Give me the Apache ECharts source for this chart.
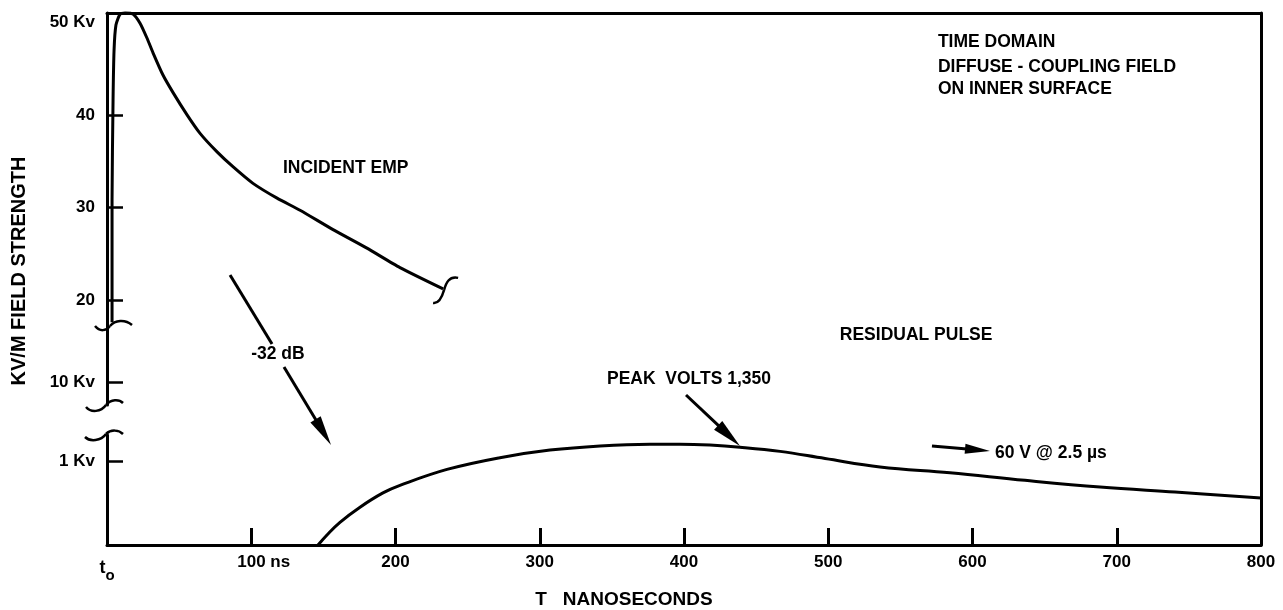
<!DOCTYPE html>
<html><head><meta charset="utf-8">
<script src="https://cdn.jsdelivr.net/npm/echarts@6/dist/echarts.min.js"></script>
<style>html,body{margin:0;padding:0;background:#fff}#c{width:1283px;height:610px}</style>
</head><body><div id="c"></div>
<script>
// ---- data ----
const xTicks = [0, 100, 200, 300, 400, 500, 600, 700, 800];
const xTickLabels = ['t0', '100 ns', '200', '300', '400', '500', '600', '700', '800'];
const upperTicks = [20, 30, 40, 50];
const upperTickLabels = ['20', '30', '40', '50 Kv'];
const midTicks = [10];
const midTickLabels = ['10 Kv'];
const lowTicks = [1];
const lowTickLabels = ['1 Kv'];

// Incident EMP (kV/m), time in ns
const incidentTime = [3.5, 3.5, 4.2, 4.9, 6.2, 9.0, 12.5, 18.0, 22.9, 27.7, 31.9, 38.8, 45.8, 55.5, 64.5, 76.3, 87.3, 101.2, 117.9, 133.8, 156.7, 180.2, 203.1, 233.0];
const incidentKV   = [17.6, 30.8, 41.6, 47.0, 49.7, 50.85, 51.0, 50.9, 49.9, 48.3, 46.7, 44.3, 42.4, 40.0, 38.0, 36.0, 34.4, 32.6, 31.0, 29.7, 27.6, 25.6, 23.5, 21.2];

// Residual pulse (kV/m), time in ns
const residualTime = [146.3, 152.5, 161.5, 175.4, 191.3, 203.1, 235.7, 272.4, 307.1, 341.8, 376.4, 397.2, 418.0, 438.8, 466.6, 497.8, 535.9, 584.4, 636.4, 688.4, 740.4, 800];
const residualKV   = [0, 0.12, 0.27, 0.45, 0.62, 0.71, 0.90, 1.04, 1.13, 1.18, 1.20, 1.20, 1.19, 1.165, 1.115, 1.03, 0.93, 0.86, 0.77, 0.69, 0.63, 0.56];

const FONT = '"Liberation Sans", Arial, Helvetica, sans-serif';
const BLACK = '#000';

const chart = echarts.init(document.getElementById('c'), null, {renderer: 'canvas'});

const G = {left: 107, right: 22};
function yAxisDef(gi, min, max, ticks, labels, tickVals) {
  return {
    type: 'value', gridIndex: gi, min: min, max: max,
    axisLine: {show: true, onZero: false, lineStyle: {color: BLACK, width: 3}},
    axisTick: {show: true, inside: true, length: 16, customValues: tickVals, lineStyle: {color: BLACK, width: 2.5}},
    axisLabel: {show: true, customValues: ticks, margin: 12, color: BLACK, fontFamily: FONT, fontWeight: 'bold', fontSize: 17,
      formatter: v => { const i = ticks.indexOf(v); return i >= 0 ? labels[i] : ''; }},
    splitLine: {show: false}
  };
}

const option = {
  animation: false,
  backgroundColor: '#fff',
  grid: [
    {left: G.left, right: G.right, top: 13, height: 312},
    {left: G.left, right: G.right, top: 325, height: 80},
    {left: G.left, right: G.right, top: 435, height: 110},
    {left: G.left, right: G.right, top: 13, height: 532}
  ],
  xAxis: [
    {type: 'value', gridIndex: 0, min: 0, max: 800, show: false},
    {type: 'value', gridIndex: 1, min: 0, max: 800, show: false},
    {type: 'value', gridIndex: 2, min: 0, max: 800,
      axisLine: {show: true, onZero: false, lineStyle: {color: BLACK, width: 3}},
      axisTick: {show: true, inside: true, length: 17, customValues: xTicks.slice(1, -1), lineStyle: {color: BLACK, width: 3}},
      axisLabel: {show: true, customValues: xTicks, margin: 9, color: BLACK, fontFamily: FONT, fontWeight: 'bold', fontSize: 17,
        formatter: v => {
          const lab = xTickLabels[xTicks.indexOf(v)] || '';
          if (lab === 't0') return '{t|t}{s|o}';
          if (lab.indexOf(' ') > 0) return '{pad|}' + lab;
          return lab;
        },
        rich: {
          t: {fontFamily: FONT, fontWeight: 'bold', fontSize: 18, color: BLACK},
          s: {fontFamily: FONT, fontWeight: 'bold', fontSize: 15, color: BLACK, padding: [14, 0, 0, 0]},
          pad: {width: 25}
        }},
      splitLine: {show: false}},
    {type: 'value', gridIndex: 3, min: 0, max: 800, position: 'top',
      axisLine: {show: true, onZero: false, lineStyle: {color: BLACK, width: 3}},
      axisTick: {show: false}, axisLabel: {show: false}, splitLine: {show: false}}
  ],
  yAxis: [
    yAxisDef(0, 17.3, 51.0, upperTicks, upperTickLabels, [20, 30, 40]),
    yAxisDef(1, 7.7, 15.7, midTicks, midTickLabels, [10]),
    yAxisDef(2, 0, 1.31, lowTicks, lowTickLabels, [1]),
    {type: 'value', gridIndex: 3, min: 0, max: 1, position: 'right',
      axisLine: {show: true, onZero: false, lineStyle: {color: BLACK, width: 3}},
      axisTick: {show: false}, axisLabel: {show: false}, splitLine: {show: false}}
  ],
  series: [
    {name: 'Incident EMP', type: 'line', xAxisIndex: 0, yAxisIndex: 0, symbol: 'none', smooth: 0.2, clip: false,
      lineStyle: {color: BLACK, width: 3}, data: incidentTime.map((t, i) => [t, incidentKV[i]])},
    {name: 'Residual pulse', type: 'line', xAxisIndex: 2, yAxisIndex: 2, symbol: 'none', smooth: 0.4,
      lineStyle: {color: BLACK, width: 3}, data: residualTime.map((t, i) => [t, residualKV[i]])}
  ]
};
chart.setOption(option);

// ---- annotations (positions given in data coordinates of each band) ----
function P(g, x, y) { return chart.convertToPixel({gridIndex: g}, [x, y]); }
const txtFont = 'bold 17.5px ' + FONT;
const els = [];
function text(p, s, align, font) {
  els.push({type: 'text', x: p[0], y: p[1], silent: true, z: 10,
    style: {text: s, font: font || txtFont, fill: BLACK, align: align || 'left', verticalAlign: 'middle'}});
}
function line(p0, p1) {
  els.push({type: 'line', silent: true, z: 10, shape: {x1: p0[0], y1: p0[1], x2: p1[0], y2: p1[1]},
    style: {stroke: BLACK, lineWidth: 3}});
}
function arrow(p0, p1, hl, hw) {
  const dx = p1[0] - p0[0], dy = p1[1] - p0[1], L = Math.hypot(dx, dy);
  const ux = dx / L, uy = dy / L;
  const bx = p1[0] - ux * hl, by = p1[1] - uy * hl;
  line(p0, [bx + ux * 2, by + uy * 2]);
  els.push({type: 'polygon', silent: true, z: 10, shape: {points: [
    [p1[0], p1[1]], [bx - uy * hw / 2, by + ux * hw / 2], [bx + uy * hw / 2, by - ux * hw / 2]]},
    style: {fill: BLACK}});
}
function tilde(c, pts) { // bezier segments relative to anchor c
  pts.forEach(s => els.push({type: 'bezierCurve', silent: true, z: 10,
    shape: {x1: c[0] + s[0], y1: c[1] + s[1], cpx1: c[0] + s[2], cpy1: c[1] + s[3], cpx2: c[0] + s[4], cpy2: c[1] + s[5], x2: c[0] + s[6], y2: c[1] + s[7]},
    style: {stroke: BLACK, lineWidth: 2.5, fill: null}}));
}

// axis break marks
const brkUpper = P(0, 0, 17.3);
tilde(brkUpper, [[-12, 1, -7, 7, -1, 6, 3, 1], [3, 1, 8, -5, 18, -6, 25, 0]]);
const brkMid = P(1, 0, 7.7);
tilde(brkMid, [[-21, 2, -16, 8, -6, 7, -1, 0], [-1, 0, 4, -6, 12, -6, 16, -2]]);
const brkLow = P(2, 0, 1.31);
tilde(brkLow, [[-22, 2, -17, 7, -6, 6, -1, -1], [-1, -1, 4, -6, 12, -5, 16, -1]]);
// break mark at the end of the incident curve
const endPt = P(0, incidentTime[incidentTime.length - 1], incidentKV[incidentKV.length - 1]);
tilde(endPt, [[15, -11, 6, -13, 3, -6, 1, 1], [1, 1, -1, 8, -4, 15, -10, 14]]);

// texts
text(P(0, 576, 47.8), 'TIME DOMAIN');
text(P(0, 576, 45.2), 'DIFFUSE - COUPLING FIELD');
text(P(0, 576, 42.75), 'ON INNER SURFACE');
text(P(0, 122, 34.26), 'INCIDENT EMP');
text(P(1, 118.5, 12.8), '-32 dB', 'center');
text(P(1, 508, 14.7), 'RESIDUAL PULSE');
text(P(1, 346.6, 10.3), 'PEAK  VOLTS 1,350');
text(P(2, 615.6, 1.096), '60 V @ 2.5 \u00b5s');

// arrows
line(P(0, 85.3, 22.7), P(1, 114.4, 13.8));
arrow(P(1, 122.7, 11.5), P(2, 155.3, 1.19), 30, 12);
arrow(P(1, 401.4, 8.7), P(2, 438.8, 1.18), 30, 12);
arrow(P(2, 571.9, 1.18), P(2, 612.1, 1.12), 25, 10);

// axis titles
els.push({type: 'text', x: 19, y: 271, rotation: Math.PI / 2, silent: true,
  style: {text: 'KV/M FIELD STRENGTH', font: 'bold 20px ' + FONT, fill: BLACK, align: 'center', verticalAlign: 'middle'}});
els.push({type: 'text', x: 624, y: 600, silent: true,
  style: {text: 'T   NANOSECONDS', font: 'bold 19px ' + FONT, fill: BLACK, align: 'center', verticalAlign: 'middle'}});

chart.setOption({graphic: {elements: els}});
</script>
</body></html>
